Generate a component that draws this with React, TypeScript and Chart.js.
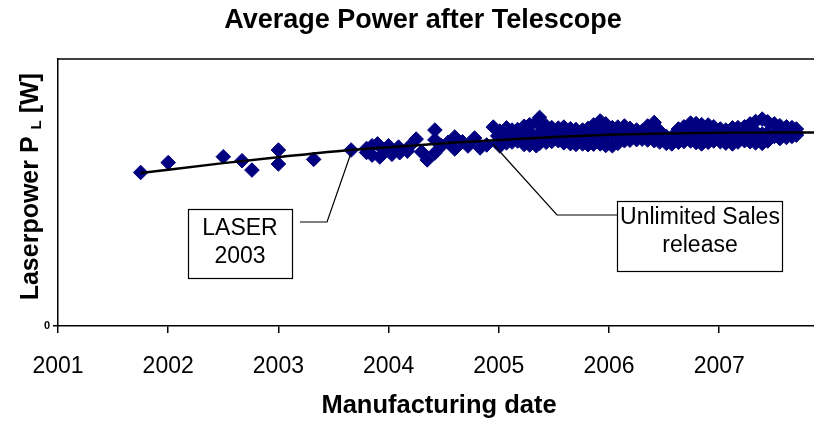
import React, { useEffect, useRef } from "react";
import { Chart, registerables } from "chart.js";

Chart.register(...registerables);

// ---- axis ticks ----
const yearTicks = [2001, 2002, 2003, 2004, 2005, 2006, 2007];
const powerTicks = [0];

// ---- early single units (2001.7 - 2003.7) ----
const earlyDates = [2001.75, 2002.0, 2002.5, 2002.67, 2002.76, 2003.0, 2003.0, 2003.32, 2003.66];
const earlyPower = [57.5, 61.2, 63.4, 61.9, 58.4, 65.9, 60.7, 62.4, 65.9];

// ---- ramp-up (2003.8 - 2005.0) ----
const rampDates = [
  2003.8, 2003.8, 2003.85, 2003.85, 2003.9, 2003.92, 2003.96, 2004.0, 2004.03, 2004.09,
  2004.1, 2004.17, 2004.19, 2004.25, 2004.3, 2004.35, 2004.42, 2004.42, 2004.42, 2004.48,
  2004.54, 2004.6, 2004.6, 2004.67, 2004.72, 2004.78, 2004.83, 2004.89, 2004.95, 2004.99, 2004.99,
];
const rampPower = [
  66.5, 65.0, 67.5, 64.0, 68.2, 63.3, 66.0, 67.5, 64.3, 67.0,
  64.9, 65.5, 67.3, 70.0, 65.2, 62.2, 73.4, 69.7, 64.8, 67.5,
  68.8, 70.8, 66.3, 69.0, 67.4, 70.4, 66.7, 67.8, 74.5, 71.2, 68.5,
];

// ---- series production (2005 - 2007.7): upper, middle and lower units per date ----
const bulkDates = [
  2005.01, 2005.07, 2005.12, 2005.17, 2005.23, 2005.28, 2005.34, 2005.37, 2005.43, 2005.48,
  2005.54, 2005.59, 2005.65, 2005.7, 2005.76, 2005.81, 2005.86, 2005.92, 2005.97,
  2006.03, 2006.08, 2006.14, 2006.19, 2006.25, 2006.3, 2006.35, 2006.41, 2006.46, 2006.52,
  2006.57, 2006.63, 2006.68, 2006.74, 2006.79, 2006.84, 2006.9, 2006.95,
  2007.01, 2007.06, 2007.12, 2007.17, 2007.23, 2007.28, 2007.33, 2007.39, 2007.44, 2007.5,
  2007.55, 2007.61, 2007.66, 2007.7,
];
const bulkHigh = [
  73.0, 74.2, 73.4, 73.6, 74.8, 75.4, 76.3, 78.1, 74.9, 74.3,
  74.1, 74.5, 73.9, 73.6, 73.4, 74.0, 75.3, 76.8, 75.7,
  74.3, 74.5, 74.9, 74.0, 73.4, 73.0, 74.9, 76.2, 73.0, 71.0,
  70.8, 73.8, 74.6, 76.0, 75.8, 75.4, 75.3, 74.6,
  73.8, 73.4, 74.2, 74.3, 74.6, 75.7, 76.6, 77.5, 76.5, 75.7,
  75.0, 74.6, 74.3, 73.8,
];
const bulkMid = [
  70.5, 71.8, 69.8, 72.4, 71.0, 72.8, 70.3, 72.0, 71.5, 72.9,
  70.6, 72.2, 71.1, 72.6, 70.9, 72.1, 71.4, 72.5, 70.7,
  72.3, 71.6, 72.8, 71.2, 72.0, 71.4, 72.6, 71.8, 71.5, 69.8,
  69.5, 71.6, 72.2, 71.3, 72.7, 71.0, 72.4, 71.5,
  72.1, 70.9, 72.6, 71.3, 72.2, 71.6, 72.8, 71.9, 72.4, 71.1,
  72.6, 72.0, 71.5, 72.3,
];
const bulkLow = [
  67.4, 68.6, 68.9, 69.3, 68.0, 67.8, 67.5, 68.4, 68.8, 69.1,
  69.4, 68.6, 68.3, 68.0, 68.2, 67.9, 68.1, 68.2, 67.6,
  67.5, 68.4, 69.4, 69.6, 69.8, 70.0, 69.7, 69.4, 68.9, 68.4,
  68.2, 68.8, 69.1, 69.3, 68.7, 68.2, 68.8, 69.3,
  69.0, 68.5, 68.2, 68.9, 69.4, 69.0, 68.6, 68.4, 69.3, 71.0,
  70.2, 70.6, 71.0, 71.5,
];

// ---- trend line ----
const trendDates = [2001.75, 2002.5, 2003.0, 2003.65, 2004.2, 2004.6, 2005.0, 2005.5, 2006.0, 2006.5, 2007.0, 2007.86];
const trendPower = [57.3, 61.0, 63.2, 65.9, 67.5, 68.7, 69.7, 70.8, 71.6, 72.1, 72.4, 72.5];

const FONT = '"Liberation Sans", Arial, Helvetica, sans-serif';
const NAVY = "#000080";

const decorPlugin = {
  id: "decor",
  afterDraw(chart: any) {
    const { ctx, chartArea } = chart;
    ctx.save();
    // top frame line
    ctx.strokeStyle = "#000";
    ctx.lineWidth = 1.5;
    ctx.beginPath();
    ctx.moveTo(chartArea.left, chartArea.top);
    ctx.lineTo(chartArea.right, chartArea.top);
    ctx.stroke();

    ctx.fillStyle = "#000";
    ctx.textAlign = "center";
    ctx.textBaseline = "alphabetic";
    // chart title
    ctx.font = `bold 27px ${FONT}`;
    ctx.fillText("Average Power after Telescope", 423, 28);
    // x axis title
    ctx.font = `bold 25.5px ${FONT}`;
    ctx.fillText("Manufacturing date", 439, 413);

    // y axis title with subscript
    ctx.save();
    ctx.translate(38, 186.7);
    ctx.rotate(-Math.PI / 2);
    const big = `bold 25px ${FONT}`;
    const small = `bold 15px ${FONT}`;
    ctx.font = big;
    const w1 = ctx.measureText("Laserpower P ").width;
    const w3 = ctx.measureText(" [W]").width;
    ctx.font = small;
    const w2 = ctx.measureText("L").width;
    const x0 = -(w1 + w2 + w3) / 2;
    ctx.textAlign = "left";
    ctx.font = big;
    ctx.fillText("Laserpower P ", x0, 0);
    ctx.font = small;
    ctx.fillText("L", x0 + w1, 3);
    ctx.font = big;
    ctx.fillText(" [W]", x0 + w1 + w2, 0);
    ctx.restore();

    // callout lines
    ctx.lineWidth = 1.2;
    ctx.strokeStyle = "#000";
    ctx.beginPath();
    ctx.moveTo(300, 222);
    ctx.lineTo(327, 222);
    ctx.lineTo(351, 153);
    ctx.stroke();
    ctx.beginPath();
    ctx.moveTo(618, 215);
    ctx.lineTo(557, 215);
    ctx.lineTo(493, 144);
    ctx.stroke();

    // callout boxes
    ctx.lineWidth = 1.2;
    ctx.fillStyle = "#fff";
    ctx.fillRect(188.5, 209.5, 104, 69);
    ctx.strokeRect(188.5, 209.5, 104, 69);
    ctx.fillRect(617.5, 201.5, 165, 70);
    ctx.strokeRect(617.5, 201.5, 165, 70);

    ctx.fillStyle = "#000";
    ctx.textAlign = "center";
    ctx.font = `23px ${FONT}`;
    ctx.fillText("LASER", 240, 235);
    ctx.fillText("2003", 240, 263);
    ctx.fillText("Unlimited Sales", 700, 224);
    ctx.fillText("release", 700, 252);
    ctx.restore();
  },
};

export default function App() {
  const canvasRef = useRef<HTMLCanvasElement | null>(null);

  useEffect(() => {
    if (!canvasRef.current) return;

    const points: { x: number; y: number }[] = [];
    earlyDates.forEach((d, i) => points.push({ x: d, y: earlyPower[i] }));
    rampDates.forEach((d, i) => points.push({ x: d, y: rampPower[i] }));
    bulkDates.forEach((d, i) => {
      points.push({ x: d, y: bulkLow[i] });
      points.push({ x: d, y: bulkMid[i] });
      points.push({ x: d, y: bulkHigh[i] });
    });
    const trend = trendDates.map((d, i) => ({ x: d, y: trendPower[i] }));

    const chart = new Chart(canvasRef.current, {
      type: "scatter",
      data: {
        datasets: [
          {
            type: "line",
            label: "Trend",
            data: trend,
            borderColor: "#000",
            borderWidth: 2.5,
            pointRadius: 0,
            fill: false,
            cubicInterpolationMode: "monotone",
            order: 0,
          } as any,
          {
            label: "Laserpower",
            data: points,
            pointStyle: "rectRot",
            pointRadius: 7.3,
            pointBorderWidth: 1,
            backgroundColor: NAVY,
            borderColor: NAVY,
            order: 1,
          } as any,
        ],
      },
      options: {
        animation: false,
        responsive: false,
        devicePixelRatio: 1,
        layout: { autoPadding: false, padding: { top: 59, right: 0, left: 0, bottom: 0 } },
        plugins: {
          legend: { display: false },
          title: { display: false },
          tooltip: { enabled: false },
        },
        scales: {
          x: {
            type: "linear",
            min: 2001,
            max: 2007.86,
            afterBuildTicks: (s: any) => {
              s.ticks = yearTicks.map((v) => ({ value: v }));
            },
            afterFit: (s: any) => {
              s.height = 95;
              s.paddingLeft = 0;
              s.paddingRight = 0;
            },
            grid: {
              display: true,
              drawOnChartArea: false,
              drawTicks: true,
              tickLength: 7,
              color: "#000",
              lineWidth: 1.5,
            },
            border: { display: true, color: "#000", width: 1.5 },
            ticks: {
              color: "#000",
              font: { family: FONT, size: 23 },
              padding: 20,
              maxRotation: 0,
              autoSkip: false,
              callback: (v: any) => String(v),
            },
          },
          y: {
            type: "linear",
            min: 0,
            max: 100,
            afterBuildTicks: (s: any) => {
              s.ticks = powerTicks.map((v) => ({ value: v }));
            },
            afterFit: (s: any) => {
              s.width = 58;
              s.paddingTop = 0;
              s.paddingBottom = 0;
            },
            grid: {
              display: true,
              drawOnChartArea: false,
              drawTicks: true,
              tickLength: 5,
              color: "#000",
              lineWidth: 1.5,
            },
            border: { display: true, color: "#000", width: 1.5 },
            ticks: {
              color: "#000",
              font: { family: FONT, size: 11, weight: "bold" },
              padding: 3,
              callback: (v: any) => String(v),
            },
          },
        },
      },
      plugins: [decorPlugin],
    });

    return () => chart.destroy();
  }, []);

  return (
    <div style={{ position: "absolute", left: 0, top: 0, width: 814, height: 421, background: "#fff" }}>
      <canvas ref={canvasRef} width={814} height={421} />
    </div>
  );
}
